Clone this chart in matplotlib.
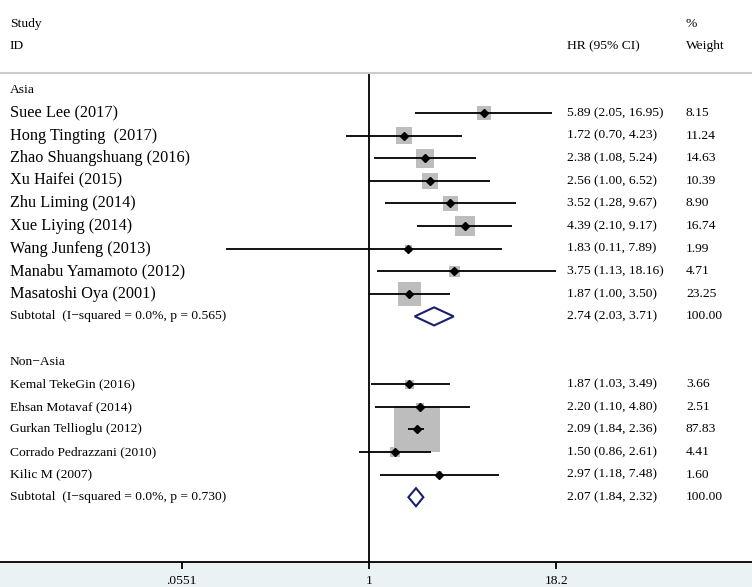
import matplotlib
matplotlib.use("Agg")
import matplotlib.pyplot as plt
import numpy as np
from matplotlib.transforms import blended_transform_factory
from matplotlib.patches import Rectangle, Polygon
from matplotlib.lines import Line2D

# ---------------- data ----------------
asia_studies = ["Suee Lee (2017)", "Hong Tingting  (2017)", "Zhao Shuangshuang (2016)",
                "Xu Haifei (2015)", "Zhu Liming (2014)", "Xue Liying (2014)",
                "Wang Junfeng (2013)", "Manabu Yamamoto (2012)", "Masatoshi Oya (2001)"]
asia_hr = [5.89, 1.72, 2.38, 2.56, 3.52, 4.39, 1.83, 3.75, 1.87]
asia_lo = [2.05, 0.70, 1.08, 1.00, 1.28, 2.10, 0.11, 1.13, 1.00]
asia_hi = [16.95, 4.23, 5.24, 6.52, 9.67, 9.17, 7.89, 18.16, 3.50]
asia_w = [8.15, 11.24, 14.63, 10.39, 8.90, 16.74, 1.99, 4.71, 23.25]
asia_sub = (2.74, 2.03, 3.71)
asia_sub_label = "Subtotal  (I\u2212squared = 0.0%, p = 0.565)"

nonasia_studies = ["Kemal TekeGin (2016)", "Ehsan Motavaf (2014)", "Gurkan Tellioglu (2012)",
                   "Corrado Pedrazzani (2010)", "Kilic M (2007)"]
nonasia_hr = [1.87, 2.20, 2.09, 1.50, 2.97]
nonasia_lo = [1.03, 1.10, 1.84, 0.86, 1.18]
nonasia_hi = [3.49, 4.80, 2.36, 2.61, 7.48]
nonasia_w = [3.66, 2.51, 87.83, 4.41, 1.60]
nonasia_sub = (2.07, 1.84, 2.32)
nonasia_sub_label = "Subtotal  (I\u2212squared = 0.0%, p = 0.730)"

xticks = [0.0551, 1, 18.2]
xticklabels = [".0551", "1", "18.2"]

# ---------------- style ----------------
W, H = 752, 587
FONT = "Liberation Serif"
FS = 9.7
FS_ASIA_NAMES = 11.7
plt.rcParams['font.family'] = [FONT, 'DejaVu Serif']
SQ_COLOR = "#bdbdbd"
DIA_COLOR = "#1b1f6c"
BAND = "#eaf2f3"

fig = plt.figure(figsize=(W / 100, H / 100), dpi=100)
fig.patch.set_facecolor("white")
# bottom band (graph region)
fig.patches.append(Rectangle((0, 0), 1, 25 / H, transform=fig.transFigure,
                             facecolor=BAND, edgecolor="none", zorder=-5))

ax_top, ax_bot = 73, 562
ax = fig.add_axes([0, 1 - ax_bot / H, 1, (ax_bot - ax_top) / H])
ax.set_facecolor("white")
ax.set_xscale("log")
# pixel calibration: 1 at x=369, 64.6 px per ln unit
px_per = 64.6
ax.set_xlim(np.exp(-369 / px_per), np.exp((W - 369) / px_per))
row_px = 22.6
row0_px = 90.4
ax.set_ylim((ax_bot - row0_px) / row_px, (ax_top - row0_px) / row_px)

for s in ["top", "right", "left"]:
    ax.spines[s].set_visible(False)
ax.spines["bottom"].set_linewidth(1.3)
ax.set_yticks([])
ax.set_xticks(xticks)
ax.set_xticklabels(xticklabels, fontsize=FS)
ax.minorticks_off()
ax.tick_params(axis="x", direction="out", length=5, width=1.3, pad=4)

ax.axvline(1, color="black", lw=1.3, zorder=1)

tr = blended_transform_factory(fig.transFigure, ax.transData)
x_name, x_hr, x_w = 10 / W, 567 / W, 686 / W


def txt(x, y, s, fs=FS):
    ax.text(x, y, s, transform=tr, fontsize=fs, va="center", ha="left", clip_on=False)


def side_pt(w):
    return 46 * np.sqrt(w / 87.83) * 0.72


def group(start_row, label, studies, hr, lo, hi, w, sub, sub_label, name_fs):
    txt(x_name, start_row, label)
    rows = np.arange(len(studies)) + start_row + 1
    sizes = [side_pt(v) ** 2 for v in w]
    ax.scatter(hr, rows, s=sizes, marker="s", color=SQ_COLOR, linewidths=0, zorder=2)
    for r, h, l, u, name, wt in zip(rows, hr, lo, hi, studies, w):
        ax.plot([l, u], [r, r], color="black", lw=1.3, zorder=3, solid_capstyle="butt")
        txt(x_name, r, name, name_fs)
        txt(x_hr, r, f"{h:.2f} ({l:.2f}, {u:.2f})")
        txt(x_w, r, f"{wt:.2f}")
    ax.plot(hr, rows, "D", color="black", ms=3.8, zorder=4)
    sr = start_row + len(studies) + 1
    est, l, u = sub
    ax.add_patch(Polygon([(l, sr), (est, sr - 0.4), (u, sr), (est, sr + 0.4)],
                         closed=True, facecolor="white", edgecolor=DIA_COLOR,
                         lw=1.5, zorder=3))
    txt(x_name, sr, sub_label)
    txt(x_hr, sr, f"{est:.2f} ({l:.2f}, {u:.2f})")
    txt(x_w, sr, "100.00")
    return sr


end = group(0, "Asia", asia_studies, asia_hr, asia_lo, asia_hi, asia_w, asia_sub,
            asia_sub_label, FS_ASIA_NAMES)
group(end + 2, "Non\u2212Asia", nonasia_studies, nonasia_hr, nonasia_lo, nonasia_hi,
      nonasia_w, nonasia_sub, nonasia_sub_label, FS)

# header
def htxt(x, ypx, s):
    fig.text(x, 1 - ypx / H, s, fontsize=FS, va="center", ha="left", fontfamily=FONT)


htxt(x_name, 24, "Study")
htxt(x_name, 46, "ID")
htxt(x_hr, 46, "HR (95% CI)")
htxt(x_w, 24, "%")
htxt(x_w, 46, "Weight")
fig.lines.append(Line2D([0, 1], [1 - ax_top / H, 1 - ax_top / H], transform=fig.transFigure,
                        color="#cccccc", lw=1.5))

fig.savefig("out.png", dpi=100)
